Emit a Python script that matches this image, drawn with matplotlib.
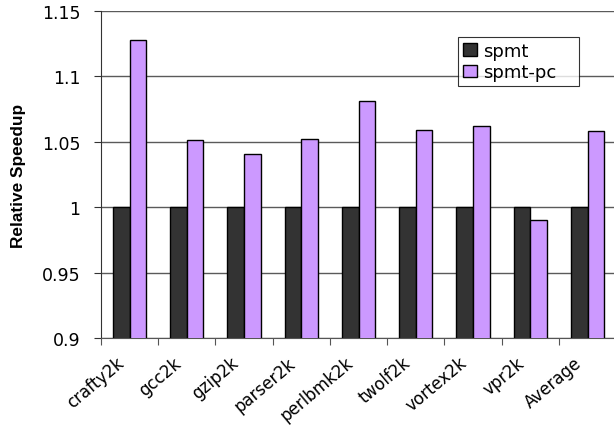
import matplotlib
matplotlib.use("Agg")
import matplotlib.pyplot as plt
import matplotlib.transforms as mtransforms
import numpy as np

plt.rcParams['font.family'] = ['DejaVu Sans']

benchmarks = ["crafty2k", "gcc2k", "gzip2k", "parser2k", "perlbmk2k",
              "twolf2k", "vortex2k", "vpr2k", "Average"]
spmt = [1.0, 1.0, 1.0, 1.0, 1.0, 1.0, 1.0, 1.0, 1.0]
spmt_pc = [1.128, 1.051, 1.041, 1.052, 1.081, 1.059, 1.062, 0.990, 1.058]
yticks = [0.9, 0.95, 1.0, 1.05, 1.1, 1.15]
ytick_labels = ["0.9", "0.95", "1", "1.05", "1.1", "1.15"]

fig = plt.figure(figsize=(6.14, 4.27), dpi=100)
ax = fig.add_axes([0.1645, 0.206, 0.839, 0.766])

x = np.arange(len(benchmarks))
w = 0.29
ax.bar(x - w / 2, spmt, width=w, bottom=0, color="#333333",
       edgecolor="black", linewidth=1.0, label="spmt", zorder=3)
ax.bar(x + w / 2, spmt_pc, width=w, bottom=0, color="#cc99ff",
       edgecolor="black", linewidth=1.0, label="spmt-pc", zorder=3)

ax.set_ylim(0.9, 1.15)
ax.set_xlim(-0.5, len(benchmarks) - 0.5)
ax.set_yticks(yticks)
ax.set_yticklabels(ytick_labels, fontsize=12.5)
ax.yaxis.grid(True, color="#5a5a5a", linewidth=1.0, zorder=0)
ax.set_axisbelow(True)

# group boundaries carry the tick marks, group centres carry the names
ax.set_xticks(np.arange(len(benchmarks) + 1) - 0.5, minor=False)
ax.set_xticklabels([""] * (len(benchmarks) + 1))
ax.set_xticks(x, minor=True)
ax.set_xticklabels(benchmarks, minor=True, rotation=40, ha="right",
                   va="center", rotation_mode="anchor", fontsize=12)
ax.tick_params(axis="x", which="minor", length=0, pad=16)
ax.tick_params(axis="x", which="major", length=5, color="#555555")
ax.tick_params(axis="y", length=5, pad=10, color="#333333")
shift = mtransforms.ScaledTranslation(-8 / 100, 0, fig.dpi_scale_trans)
for lbl in ax.get_xticklabels(minor=True):
    lbl.set_transform(lbl.get_transform() + shift)

for side in ["top", "right"]:
    ax.spines[side].set_visible(False)
ax.spines["left"].set_color("#333333")
ax.spines["bottom"].set_color("#555555")

ax.set_ylabel("Relative Speedup", fontsize=12.4, fontweight="bold",
              family="Liberation Sans")
ax.yaxis.set_label_coords(-0.146, 0.5)

leg = ax.legend(loc="upper left", bbox_to_anchor=(0.693, 0.77, 0.235, 0.15),
                mode="expand", fontsize=13,
                frameon=True, fancybox=False, edgecolor="black",
                handlelength=0.8, handleheight=0.7, handletextpad=0.35,
                borderpad=0.25, labelspacing=0.2, borderaxespad=0)
leg.get_frame().set_linewidth(0.8)

fig.savefig("out.png", dpi=100)
